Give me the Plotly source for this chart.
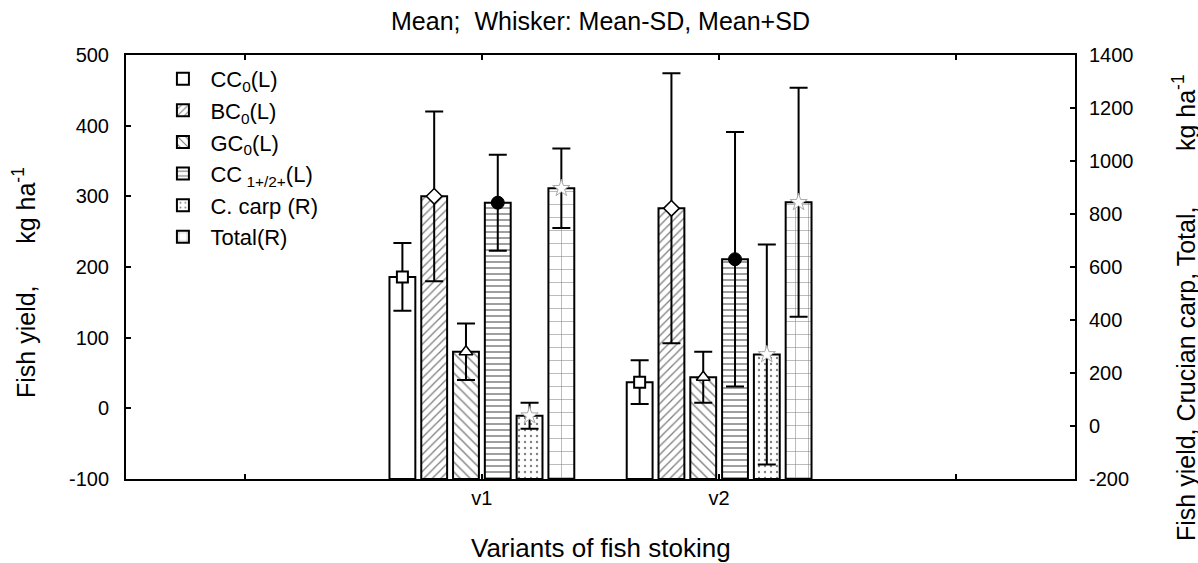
import plotly.graph_objects as go

categories = ["v1", "v2"]
series_names = ["CC<sub>0</sub>(L)", "BC<sub>0</sub>(L)", "GC<sub>0</sub>(L)",
                "CC<sub> 1+/2+</sub>(L)", "C. carp (R)", "Total(R)"]
series_axis = ["L", "L", "L", "L", "R", "R"]
means = [
    [186, 37],    # CC0
    [300, 283],   # BC0
    [80, 44],     # GC0
    [291, 211],   # CC1+/2+
    [39, 270],    # C. carp (right axis)
    [897, 844],   # Total (right axis)
]
sds = [
    [48, 31],
    [120, 191],
    [40, 36],
    [68, 180],
    [49, 415],
    [150, 432],
]
left_tickvals = [-100, 0, 100, 200, 300, 400, 500]
left_ticktext = ["-100", "0", "100", "200", "300", "400", "500"]
right_tickvals = [-200, 0, 200, 400, 600, 800, 1000, 1200, 1400]
right_ticktext = ["-200", "0", "200", "400", "600", "800", "1000", "1200", "1400"]
x_tickvals = [0, 1, 2, 3]
x_ticktext = ["", "v1", "v2", ""]

patterns = [
    dict(shape=""),
    dict(shape="/", size=6, solidity=0.22),
    dict(shape="\\", size=7, solidity=0.2),
    dict(shape="-", size=6, solidity=0.25),
    dict(shape=".", size=6, solidity=0.12),
    dict(shape="+", size=13, solidity=0.08),
]
markers = [
    dict(symbol="square", size=11, color="white", line=dict(color="black", width=2)),
    dict(symbol="diamond", size=12, color="white", line=dict(color="black", width=1.5)),
    dict(symbol="triangle-up", size=12, color="white", line=dict(color="black", width=1.5)),
    dict(symbol="circle", size=13, color="black", line=dict(color="black", width=1)),
    dict(symbol="star", size=13, color="white", line=dict(color="#aaaaaa", width=1)),
    dict(symbol="star", size=13, color="white", line=dict(color="#aaaaaa", width=1)),
]

FONT = "Liberation Sans, Arial, sans-serif"
step = 0.134
bw = 0.109
cat_pos = [i + 1 for i in range(len(categories))]

fig = go.Figure()
n = len(series_names)
for i in range(n):
    yax = "y" if series_axis[i] == "L" else "y2"
    base = left_tickvals[0] if series_axis[i] == "L" else right_tickvals[0]
    off = (i - (n - 1) / 2) * step
    mk = dict(color="white", line=dict(color="black", width=2))
    if patterns[i]["shape"]:
        mk["pattern"] = dict(fgcolor="black", bgcolor="white", **patterns[i])
    fig.add_trace(go.Bar(
        x=cat_pos, y=[m - base for m in means[i]], base=base,
        width=bw, offset=off - bw / 2, yaxis=yax,
        marker=mk, name=series_names[i], legendgroup=f"g{i}",
        showlegend=True,
    ))
    fig.add_trace(go.Scatter(
        x=[p + off for p in cat_pos], y=means[i], yaxis=yax, mode="markers",
        marker=markers[i], showlegend=False, legendgroup=f"g{i}",
        error_y=dict(type="data", array=sds[i], visible=True, color="black",
                     thickness=2, width=9),
        cliponaxis=False,
    ))

axis_common = dict(showline=True, linecolor="black", linewidth=2, ticks="inside",
                   ticklen=5, tickwidth=2, tickcolor="black",
                   showgrid=False, zeroline=False, automargin=False)

fig.update_layout(
    width=1198, height=563,
    margin=dict(l=126, r=123, t=55, b=84, autoexpand=False),
    paper_bgcolor="white", plot_bgcolor="white",
    font=dict(family=FONT, size=20, color="black"),
    barmode="overlay",
    title=dict(text="Mean;  Whisker: Mean-SD, Mean+SD", x=0.5, xref="paper",
               y=1 - 21 / 563, yanchor="middle", font=dict(size=25)),
    showlegend=True,
    legend=dict(x=0.031, y=0.993, xanchor="left", yanchor="top",
                bgcolor="rgba(0,0,0,0)", borderwidth=0,
                font=dict(size=22), traceorder="grouped", tracegroupgap=0,
                itemwidth=45),
    xaxis=dict(range=[-0.5, 3.5], tickvals=x_tickvals, ticktext=x_ticktext,
               mirror="ticks", **axis_common),
    yaxis=dict(range=[left_tickvals[0], left_tickvals[-1]], tickvals=left_tickvals,
               ticktext=left_ticktext, ticklabelstandoff=11, **axis_common),
    yaxis2=dict(range=[right_tickvals[0], right_tickvals[-1]], tickvals=right_tickvals,
                ticktext=right_ticktext, overlaying="y", side="right",
                ticklabelstandoff=8, **axis_common),
    annotations=[
        dict(text="Variants of fish stoking", xref="paper", yref="paper",
             x=0.5, y=-(548 - 479) / 424, xanchor="center", yanchor="middle",
             showarrow=False, font=dict(size=26)),
        dict(text="Fish yield,      kg ha<sup>-1</sup>", xref="paper", yref="paper",
             x=-(126 - 24) / 949, y=(479 - 283) / 424, xanchor="center", yanchor="middle",
             textangle=-90, showarrow=False, font=dict(size=25)),
        dict(text="Fish yield, Crucian carp, Total,        kg ha<sup>-1</sup>",
             xref="paper", yref="paper",
             x=1 + (1184 - 1075) / 949, y=(479 - 308) / 424, xanchor="center",
             yanchor="middle", textangle=-90, showarrow=False, font=dict(size=25)),
    ],
)

fig.write_html("out.html")
